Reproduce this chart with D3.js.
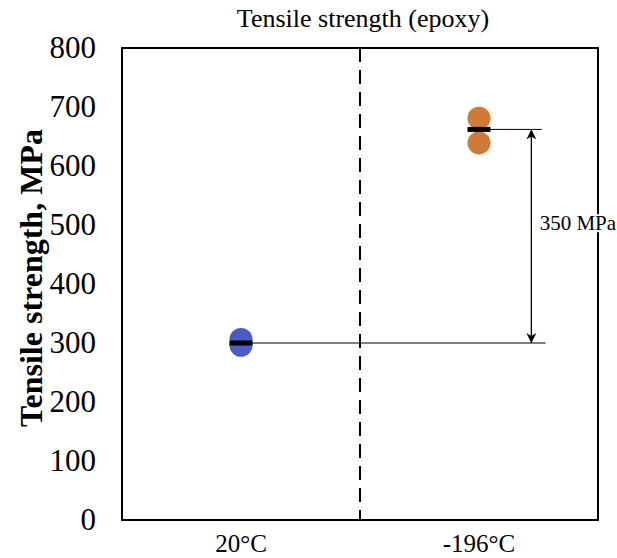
<!DOCTYPE html>
<html>
<head>
<meta charset="utf-8">
<script src="https://cdn.jsdelivr.net/npm/d3@7"></script>
<style>
  body { margin: 0; background: #fff; }
  text { font-family: "Liberation Serif", "Times New Roman", serif; }
</style>
</head>
<body>
<div id="drawingArea"></div>
<script>
// data
var categories = ["20°C", "-196°C"];
var pointsRT = [306, 296];      // 20°C specimens
var pointsLN = [681, 639];      // -196°C specimens
var means = [300, 662];
var yTicks = [0, 100, 200, 300, 400, 500, 600, 700, 800];
var diffLabel = "350 MPa";

var colors = ["#4b5cc2", "#cf7a36"];

var W = 617, H = 558;
var margin = {top: 48, right: 19, bottom: 38, left: 122},
    width = W - margin.left - margin.right,
    height = H - margin.top - margin.bottom;

var svg = d3.select("#drawingArea").append("svg")
    .attr("width", W)
    .attr("height", H);

var g = svg.append("g")
    .attr("transform", "translate(" + margin.left + "," + margin.top + ")");

var x = d3.scaleBand().domain(categories).range([0, width]).padding(0);
var y = d3.scaleLinear().domain([0, 800]).range([height, 0]);

// title
svg.append("text")
    .attr("x", margin.left + width / 2 + 3)
    .attr("y", 27)
    .attr("text-anchor", "middle")
    .style("font-size", "26px")
    .text("Tensile strength (epoxy)");

// y axis labels
g.append("g")
    .call(d3.axisLeft(y).tickValues(yTicks).tickSize(0).tickPadding(26))
    .call(function(a) {
        a.select(".domain").remove();
        a.selectAll("text")
            .style("font-family", "'Liberation Serif', serif")
            .style("font-size", "31px")
            .attr("fill", "#000");
    });

// x axis labels
g.append("g")
    .attr("transform", "translate(0," + height + ")")
    .call(d3.axisBottom(x).tickSize(0).tickPadding(14))
    .call(function(a) {
        a.select(".domain").remove();
        a.selectAll("text")
            .style("font-family", "'Liberation Serif', serif")
            .style("font-size", "25px")
            .attr("fill", "#000");
    });

// y axis title
svg.append("text")
    .attr("transform", "rotate(-90)")
    .attr("x", -(margin.top + height / 2) + 6)
    .attr("y", 42)
    .attr("text-anchor", "middle")
    .style("font-size", "32px")
    .style("font-weight", "bold")
    .text("Tensile strength, MPa");

// dashed divider
g.append("line")
    .attr("x1", x(categories[1])).attr("x2", x(categories[1]))
    .attr("y1", 0).attr("y2", height)
    .attr("stroke", "#000")
    .attr("stroke-width", 2)
    .attr("stroke-dasharray", "14,8");

// annotation lines
var cx = function(i) { return x(categories[i]) + x.bandwidth() / 2; };
var lineEnd = cx(1) + x.bandwidth() * 0.28;
var arrowX = cx(1) + x.bandwidth() * 0.22;

g.append("line")
    .attr("x1", cx(0)).attr("x2", lineEnd)
    .attr("y1", y(means[0])).attr("y2", y(means[0]))
    .attr("stroke", "#000").attr("stroke-width", 1);
g.append("line")
    .attr("x1", cx(1)).attr("x2", lineEnd - 4)
    .attr("y1", y(means[1])).attr("y2", y(means[1]))
    .attr("stroke", "#000").attr("stroke-width", 1);

svg.append("defs").append("marker")
    .attr("id", "arr")
    .attr("viewBox", "0 0 10 10")
    .attr("refX", 10).attr("refY", 5)
    .attr("markerWidth", 10).attr("markerHeight", 12)
    .attr("markerUnits", "userSpaceOnUse")
    .attr("orient", "auto-start-reverse")
    .append("path")
    .attr("d", "M0,0 L10,5 L0,10 L3,5 Z")
    .attr("fill", "#000");

g.append("line")
    .attr("x1", arrowX).attr("x2", arrowX)
    .attr("y1", y(means[1])).attr("y2", y(means[0]))
    .attr("stroke", "#000").attr("stroke-width", 1.3)
    .attr("marker-start", "url(#arr)")
    .attr("marker-end", "url(#arr)");

// points
var series = [pointsRT, pointsLN];
series.forEach(function(vals, i) {
    g.selectAll(".pt" + i)
        .data(vals)
        .enter().append("circle")
        .attr("cx", cx(i))
        .attr("cy", function(d) { return y(d); })
        .attr("r", 11.5)
        .attr("fill", colors[i]);
});

// mean bars
g.selectAll(".mean")
    .data(means)
    .enter().append("line")
    .attr("x1", function(d, i) { return cx(i) - 11.5; })
    .attr("x2", function(d, i) { return cx(i) + 11.5; })
    .attr("y1", function(d) { return y(d); })
    .attr("y2", function(d) { return y(d); })
    .attr("stroke", "#000")
    .attr("stroke-width", 5);

// plot border
g.append("rect")
    .attr("width", width).attr("height", height)
    .attr("fill", "none")
    .attr("stroke", "#000")
    .attr("stroke-width", 2);

// difference label with white backing over the border
var lbl = g.append("text")
    .attr("x", cx(1) + x.bandwidth() * 0.255)
    .attr("y", y((means[0] + means[1]) / 2) - 6)
    .style("font-size", "21px")
    .text(diffLabel);
var bb = lbl.node().getBBox();
g.append("rect")
    .attr("x", bb.x).attr("y", bb.y + 3)
    .attr("width", bb.width).attr("height", bb.height - 6)
    .attr("fill", "#fff");
lbl.raise();
</script>
</body>
</html>
